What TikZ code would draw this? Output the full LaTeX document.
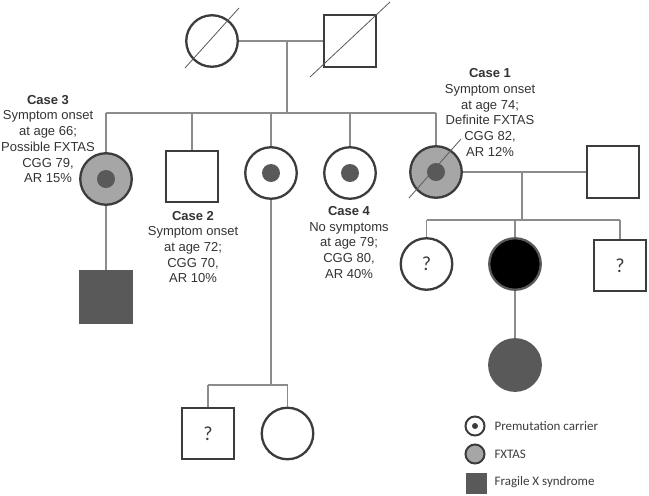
\documentclass[tikz,border=0pt]{standalone}
\usepackage{fontspec}
\setmainfont{Liberation Sans}
\newfontfamily\calfont{Carlito}
\begin{document}
\definecolor{outl}{HTML}{3C3C3C}
\definecolor{conn}{HTML}{8C8C8C}
\definecolor{fxgrey}{HTML}{A6A6A6}
\definecolor{dkgrey}{HTML}{595959}
\definecolor{txt}{HTML}{333333}
\begin{tikzpicture}[x=1pt,y=-1pt,
  fem/.style={circle,draw=outl,line width=2.3pt,minimum size=51.5pt,inner sep=0pt,fill=white},
  mal/.style={rectangle,draw=outl,line width=2.3pt,minimum size=51.5pt,inner sep=0pt,fill=white},
  fx/.style={fill=fxgrey},
  dot/.style={circle,fill=dkgrey,minimum size=18pt,inner sep=0pt},
  con/.style={draw=conn,line width=1.2pt},
  slash/.style={draw=outl!85,line width=0.8pt},
  lbl/.style={align=center,text=txt,font=\fontsize{13}{15.7}\selectfont},
  qm/.style={text=outl,font=\calfont\fontsize{20}{20}\selectfont},
  leg/.style={anchor=west,text=outl,font=\calfont\fontsize{13}{15}\selectfont}]
\useasboundingbox (0,0) rectangle (649,496);
% generation I
\node[fem] (gm) at (212,41) {};
\node[mal] (gf) at (350,41) {};
% generation II
\node[fem,fx] (c3) at (106,179) {};
\node[mal] (c2) at (192,176.5) {};
\node[fem] (s3) at (271,173) {};
\node[fem] (c4) at (350,173) {};
\node[fem,fx] (c1) at (436,172) {};
\node[mal] (sp) at (613,172) {};
\node[dot] (d3) at (c3) {};
\node[dot] (ds) at (s3) {};
\node[dot] (d4) at (c4) {};
\node[dot] (d1) at (c1) {};
% generation III
\node[mal,fill=dkgrey,draw=dkgrey] (c3s) at (106,297) {};
\node[mal] (g1) at (208,433.5) {};
\node[qm] at (g1) {?};
\node[fem] (g2) at (287.5,433.5) {};
\node[fem] (r1) at (426.5,264) {};
\node[qm] at (r1) {?};
\node[fem,fill=black,draw=dkgrey] (r2) at (515,264) {};
\node[mal] (r3) at (620,265.5) {};
\node[qm] at (r3) {?};
\node[fem,fill=dkgrey,draw=dkgrey] (r2c) at (515,365) {};
% slashes
\draw[slash] ([shift={(-27,27)}]gm.center) -- ([shift={(27,-33)}]gm.center);
\draw[slash] ([shift={(-40,36)}]gf.center) -- ([shift={(40,-39)}]gf.center);
\draw[slash] ([shift={(-27,26)}]c1.center) -- ([shift={(25,-33)}]c1.center);
% connectors
\coordinate (m1) at (287,41);
\coordinate (sib) at (287,113);
\draw[con] (gm.east) -- (gf.west);
\draw[con] (m1) -- (sib);
\draw[con] (c3 |- sib) -- (c1 |- sib);
\foreach \n in {c3,c2,s3,c4,c1} \draw[con] (\n |- sib) -- (\n.north);
\draw[con] (c3.south) -- (c3s.north);
\coordinate (m2) at (522,172);
\coordinate (sib2) at (522,220);
\draw[con] (c1.east) -- (sp.west);
\draw[con] (m2) -- (sib2);
\draw[con] (r1 |- sib2) -- (r3 |- sib2);
\foreach \n in {r1,r2,r3} \draw[con] (\n |- sib2) -- (\n.north);
\draw[con] (r2.south) -- (r2c.north);
\coordinate (sib3) at (271,385);
\draw[con] (s3.south) -- (sib3);
\draw[con] (g1 |- sib3) -- (g2 |- sib3);
\foreach \n in {g1,g2} \draw[con] (\n |- sib3) -- (\n.north);
% labels
\node[lbl] (t3) at (48,139) {\textbf{Case 3}\\Symptom onset\\at age 66;\\Possible FXTAS\\CGG 79,\\AR 15\%};
\node[lbl] (t1) at (490,112.5) {\textbf{Case 1}\\Symptom onset\\at age 74;\\Definite FXTAS\\CGG 82,\\AR 12\%};
\node[lbl] (t2) at (193,247) {\textbf{Case 2}\\Symptom onset\\at age 72;\\CGG 70,\\AR 10\%};
\node[lbl] (t4) at (349,242.5) {\textbf{Case 4}\\No symptoms\\at age 79;\\CGG 80,\\AR 40\%};
% legend
\node[circle,draw=outl,line width=2pt,minimum size=19pt,inner sep=0pt] (l1) at (475,426) {};
\node[circle,fill=outl,minimum size=6pt,inner sep=0pt] (l1d) at (l1) {};
\node[circle,draw=outl,line width=2pt,fill=fxgrey,minimum size=19pt,inner sep=0pt] (l2) at (475,454) {};
\node[rectangle,fill=dkgrey,minimum size=21pt,inner sep=0pt] (l3) at (476,483.5) {};
\node[leg] (lt1) at (491,426) {Premutation carrier};
\node[leg] (lt2) at (491,454) {FXTAS};
\node[leg] (lt3) at (491,482) {Fragile X syndrome};
\end{tikzpicture}
\end{document}
